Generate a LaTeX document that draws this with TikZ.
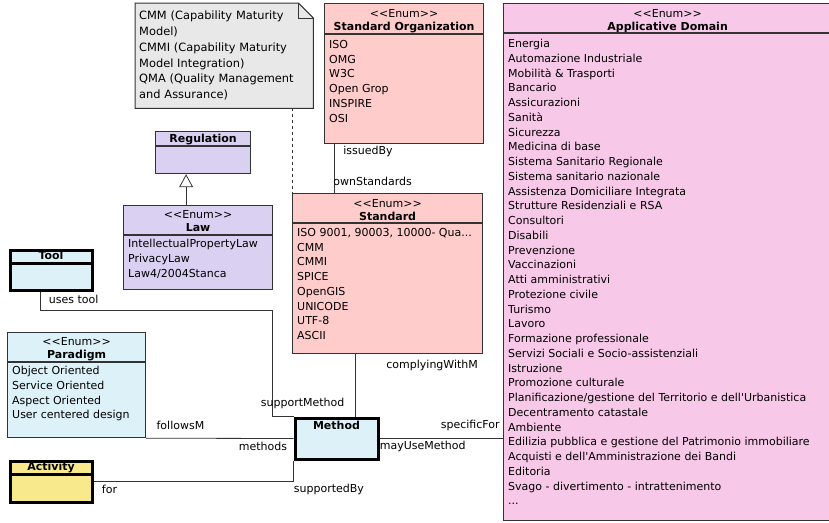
\documentclass[tikz,border=0pt]{standalone}
\usepackage{fontspec}
\newfontfamily\umlfont{DejaVu Sans}
\usepackage{xcolor}
\definecolor{umlpink}{HTML}{FFCCCC}
\definecolor{umlrose}{HTML}{F7C8E7}
\definecolor{umllilac}{HTML}{D9D0F2}
\definecolor{umlcyan}{HTML}{DDF2F8}
\definecolor{umlyellow}{HTML}{F8EA8C}
\definecolor{umlnote}{HTML}{E8E8E8}
\definecolor{umldark}{HTML}{333333}
\usepackage{tikz}
\usetikzlibrary{arrows.meta,positioning,backgrounds}
\newcommand{\enum}{<<Enum>>}

\begin{document}
\begin{tikzpicture}[x=1pt,y=-1pt,font=\umlfont\fontsize{11}{14.75}\selectfont]
\tikzset{
 cls/.style={draw=umldark,line width=1.2pt,anchor=north west,inner sep=0pt},
 key/.style={cls,draw=black,line width=3pt},
 hd/.style={anchor=north,align=center,inner sep=0pt,font=\umlfont\fontsize{11}{13}\selectfont},
 ttl/.style={anchor=base,inner sep=0pt,font=\umlfont\bfseries\fontsize{11}{13}\selectfont},
 items/.style={anchor=north west,align=left,inner sep=0pt},
 sep/.style={draw=umldark,line width=1.2pt},
 a/.style={draw=umldark,line width=0.8pt},
 lbl/.style={inner sep=0pt}
}
\useasboundingbox (0,0) rectangle (829,522);

% note attached to the standards
\node[anchor=north west,minimum width=178,minimum height=105,text width=170,inner xsep=4pt,align=left,
 font=\umlfont\fontsize{11.4}{15.8}\selectfont] (note) at (135,3)
 {CMM (Capability Maturity\\Model)\\CMMI (Capability Maturity\\Model Integration)\\QMA (Quality Management\\and Assurance)};
\begin{scope}[on background layer]
\filldraw[fill=umlnote,draw=umldark,line width=1pt] (note.north west) -- ([xshift=-15]note.north east)
 -- ([yshift=-15]note.north east) -- (note.south east) -- (note.south west) -- cycle;
\draw[umldark,line width=0.8pt] ([xshift=-15]note.north east) -- ([xshift=-15,yshift=-15]note.north east)
 -- ([yshift=-15]note.north east);
\end{scope}

% enumerations
\node[cls,fill=umlpink,minimum width=159,minimum height=140] (org) at (324,3) {};
\node[hd] (org-h) at ([yshift=-6]org.north) {\enum\\\textbf{Standard Organization}};
\draw[sep] ([yshift=-31]org.north west) -- ([yshift=-31]org.north east);
\node[items] (org-l) at ([xshift=5,yshift=-37]org.north west) {ISO\\OMG\\W3C\\Open Grop\\INSPIRE\\OSI};

\node[cls,fill=umlpink,minimum width=190,minimum height=160] (std) at (292,193) {};
\node[hd] (std-h) at ([yshift=-6]std.north) {\enum\\\textbf{Standard}};
\draw[sep] ([yshift=-30]std.north west) -- ([yshift=-30]std.north east);
\node[items] (std-l) at ([xshift=5,yshift=-35]std.north west)
 {ISO 9001, 90003, 10000- Qua...\\CMM\\CMMI\\SPICE\\OpenGIS\\UNICODE\\UTF-8\\ASCII};

\node[cls,fill=umlrose,minimum width=330,minimum height=517] (dom) at (503,3) {};
\node[hd] (dom-h) at ([xshift=-1,yshift=-6]dom.north) {\enum\\\textbf{Applicative Domain}};
\draw[sep] ([yshift=-30]dom.north west) -- ([yshift=-30]dom.north east);
\node[items] (dom-l) at ([xshift=5,yshift=-36]dom.north west)
 {Energia\\Automazione Industriale\\Mobilità \& Trasporti\\Bancario\\Assicurazioni\\Sanità\\Sicurezza\\
  Medicina di base\\Sistema Sanitario Regionale\\Sistema sanitario nazionale\\Assistenza Domiciliare Integrata\\
  Strutture Residenziali e RSA\\Consultori\\Disabili\\Prevenzione\\Vaccinazioni\\Atti amministrativi\\
  Protezione civile\\Turismo\\Lavoro\\Formazione professionale\\Servizi Sociali e Socio-assistenziali\\
  Istruzione\\Promozione culturale\\Planificazione/gestione del Territorio e dell'Urbanistica\\
  Decentramento catastale\\Ambiente\\Edilizia pubblica e gestione del Patrimonio immobiliare\\
  Acquisti e dell'Amministrazione dei Bandi\\Editoria\\Svago - divertimento - intrattenimento\\...};

% regulation and law
\node[cls,fill=umllilac,minimum width=95,minimum height=42] (reg) at (155,131) {};
\node[ttl] (reg-h) at ([yshift=-11.5]reg.north) {Regulation};
\draw[sep] ([yshift=-15]reg.north west) -- ([yshift=-15]reg.north east);

\node[cls,fill=umllilac,minimum width=149,minimum height=84] (law) at (123,205) {};
\node[hd] (law-h) at ([yshift=-5.5]law.north) {\enum\\\textbf{Law}};
\draw[sep] ([yshift=-30]law.north west) -- ([yshift=-30]law.north east);
\node[items] (law-l) at ([xshift=5,yshift=-34]law.north west)
 {IntellectualPropertyLaw\\PrivacyLaw\\Law4/2004Stanca};

% tool, paradigm, method, activity
\node[key,fill=umlcyan,minimum width=82,minimum height=40] (tool) at (8.5,248.5) {};
\node[ttl] (tool-h) at ([yshift=-11]tool.north) {Tool};
\draw[sep,black,line width=2.5pt] ([yshift=-15]tool.north west) -- ([yshift=-15]tool.north east);

\node[cls,fill=umlcyan,minimum width=138,minimum height=105] (par) at (7,332) {};
\node[hd] (par-h) at ([yshift=-5]par.north) {\enum\\\textbf{Paradigm}};
\draw[sep] ([yshift=-30]par.north west) -- ([yshift=-30]par.north east);
\node[items] (par-l) at ([xshift=5,yshift=-34]par.north west)
 {Object Oriented\\Service Oriented\\Aspect Oriented\\User centered design};

\node[key,fill=umlcyan,minimum width=83,minimum height=41] (meth) at (293.5,416.5) {};
\node[ttl] (meth-h) at ([yshift=-12.5]meth.north) {Method};

\node[key,fill=umlyellow,minimum width=82,minimum height=41] (act) at (8.5,459.5) {};
\node[ttl] (act-h) at ([yshift=-10.5]act.north) {Activity};
\draw[sep,black,line width=2.5pt] ([yshift=-15]act.north west) -- ([yshift=-15]act.north east);

% associations
\draw[a,dashed] (note.south -| std.north west) -- (std.north west);
\draw[a,-{Triangle[open,width=14pt,length=13pt]}] ([xshift=-12]law.north) -- ([xshift=-12]law.north |- reg.south);
\draw[a] ([xshift=10]org.south west) node[lbl,anchor=west,xshift=9,yshift=-7] (l-iss) {issuedBy}
 -- ([xshift=10]org.south west |- std.north) node[lbl,anchor=west,xshift=-1,yshift=12] (l-own) {ownStandards};
\draw[a] ([xshift=63]std.south west) node[lbl,anchor=west,xshift=31,yshift=-11] (l-comp) {complyingWithM}
 -- ([xshift=63]std.south west |- meth.north);
\coordinate (ut) at (272,310);
\draw[a] ([xshift=32]tool.south west) node[lbl,anchor=west,xshift=8,yshift=-8] (l-uses) {uses tool}
 |- (ut) |- (meth.north west) node[lbl,anchor=west,xshift=-33,yshift=13] (l-supm) {supportMethod};
\draw[a] (par.south east) node[lbl,anchor=west,xshift=10,yshift=13] (l-fol) {followsM}
 -- (meth.west) node[lbl,anchor=east,xshift=-6,yshift=-8] (l-met) {methods};
\draw[a] (act.east) node[lbl,anchor=west,xshift=8,yshift=-8] (l-for) {for}
 -| (meth.south west) node[lbl,anchor=west,xshift=0,yshift=-29] (l-sby) {supportedBy};
\draw[a] (meth.east) node[lbl,anchor=west,xshift=0,yshift=-8] (l-may) {mayUseMethod}
 -- (meth.east -| dom.west) node[lbl,anchor=east,xshift=-3,yshift=13] (l-spec) {specificFor};
\end{tikzpicture}
\end{document}
